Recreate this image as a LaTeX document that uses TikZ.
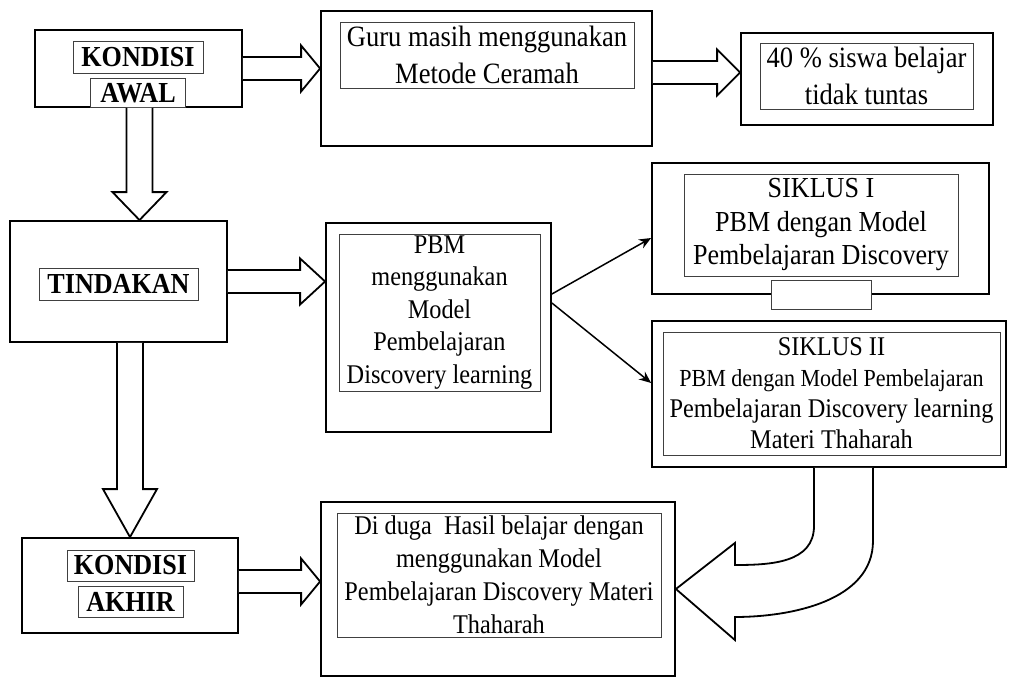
\documentclass[tikz,border=0pt]{standalone}
\usepackage{fontspec}
\setmainfont{Liberation Serif}[FakeStretch=0.9]
\usetikzlibrary{arrows.meta,calc,positioning}
\tikzset{
  kotak/.style = {
    rectangle,
    draw=black,
    line width=1.8pt,
    fill=white,
    inner sep=0pt
  },
  isi/.style = {
    rectangle,
    draw=black!75,
    line width=0.9pt,
    fill=white,
    inner sep=0pt,
    align=center,
    font=\fontsize{29}{35}\selectfont
  },
  judul/.style = {
    isi,
    font=\bfseries\fontsize{29}{35}\selectfont
  },
  block_arrow/.style = {
    draw=black,
    line width=1.8pt,
    fill=white,
    line join=miter
  },
  thin_arrow/.style = {
    line width=1.5pt,
    -{Stealth[length=12pt,width=10pt]}
  }
}
% panah blok ke kanan: #1 pangkal, #2 ujung (x), #3 panjang kepala
\newcommand{\panahkanan}[3]{%
  \draw[block_arrow] let \p1=#1, \p2=#2 in
    (\x1,\y1+11.5) -- (\x2-#3,\y1+11.5) -- (\x2-#3,\y1+23) -- (\x2,\y1)
    -- (\x2-#3,\y1-23) -- (\x2-#3,\y1-11.5) -- (\x1,\y1-11.5);}
% panah blok ke bawah: #1 pangkal, #2 ujung (y), #3 panjang kepala
\newcommand{\panahbawah}[3]{%
  \draw[block_arrow] let \p1=#1, \p2=#2 in
    (\x1-13,\y1) -- (\x1-13,\y2+#3) -- (\x1-27,\y2+#3) -- (\x1,\y2)
    -- (\x1+27,\y2+#3) -- (\x1+13,\y2+#3) -- (\x1+13,\y1);}

\begin{document}
\begin{tikzpicture}[x=1pt, y=-1pt]
\useasboundingbox (0,0) rectangle (1010,677);

% Kondisi awal
\node[kotak, minimum width=207pt, minimum height=77pt] (awal) at (138.5,68.5) {};
\node[judul, minimum width=130pt, minimum height=32pt] (awal_k) at (138,57) {KONDISI};
\node[judul, minimum width=95pt, minimum height=29pt, below=5pt of awal_k] (awal_a) {AWAL};

% Guru
\node[kotak, minimum width=331pt, minimum height=135pt] (guru) at (486.5,78.5) {};
\node[isi, minimum width=294pt, minimum height=66pt,
  font=\fontsize{29.5}{37}\selectfont] (guru_isi) at (487,55)
  {Guru masih menggunakan\\Metode Ceramah};

% Hasil awal
\node[kotak, minimum width=252pt, minimum height=92pt] (hasil) at (867,79) {};
\node[isi, minimum width=213pt, minimum height=66pt,
  font=\fontsize{29.5}{37}\selectfont] (hasil_isi) at (866.5,76)
  {40 \% siswa belajar\\tidak tuntas};

% Tindakan
\node[kotak, minimum width=217pt, minimum height=121pt] (tindakan) at (118.5,281.5) {};
\node[judul, minimum width=159pt, minimum height=32pt] (tindakan_isi) at (118.5,284) {TINDAKAN};

% PBM
\node[kotak, minimum width=225pt, minimum height=209pt] (pbm) at (438.5,327.5) {};
\node[isi, minimum width=201pt, minimum height=157pt,
  font=\fontsize{27}{32.5}\selectfont] (pbm_isi) at (439.5,312.5)
  {PBM\\menggunakan\\Model\\Pembelajaran\\Discovery learning};

% Siklus I
\node[kotak, minimum width=337pt, minimum height=131pt] (siklus1) at (820.5,228.5) {};
\node[isi, minimum width=274pt, minimum height=102pt,
  font=\fontsize{29}{33.5}\selectfont] (siklus1_isi) at (821,225)
  {SIKLUS I\\PBM dengan Model\\Pembelajaran Discovery};
\node[isi, minimum width=100pt, minimum height=29pt, below=4pt of siklus1_isi] (siklus1_kosong) {};

% Siklus II
\node[kotak, minimum width=354pt, minimum height=146pt] (siklus2) at (829,394) {};
\node[isi, minimum width=337pt, minimum height=123pt,
  font=\fontsize{27}{31}\selectfont] (siklus2_isi) at (831.5,393.5)
  {SIKLUS II\\{\fontsize{24.5}{31}\selectfont PBM dengan Model Pembelajaran}\\Pembelajaran Discovery learning\\Materi Thaharah};

% Kondisi akhir
\node[kotak, minimum width=216pt, minimum height=95pt] (akhir) at (130,585.5) {};
\node[judul, minimum width=127pt, minimum height=31pt] (akhir_k) at (130.5,565.5) {KONDISI};
\node[judul, minimum width=105pt, minimum height=31pt, below=5pt of akhir_k] (akhir_a) {AKHIR};

% Dugaan hasil
\node[kotak, minimum width=354pt, minimum height=174pt] (duga) at (498,589) {};
\node[isi, minimum width=324pt, minimum height=124pt,
  font=\fontsize{27}{33}\selectfont] (duga_isi) at (499,575)
  {Di duga\ \ Hasil belajar dengan\\menggunakan Model\\Pembelajaran Discovery Materi\\Thaharah};

% Panah
\panahkanan{(awal.east)}{(guru.west)}{19}
\panahkanan{([yshift=6pt]guru.east)}{(hasil.west)}{23}
\panahkanan{(tindakan.east)}{(pbm.west)}{25}
\panahkanan{([yshift=4pt]akhir.east)}{(duga.west)}{19}
\panahbawah{([xshift=1pt]awal.south)}{(tindakan.north)}{28}
\panahbawah{(tindakan.south -| akhir.north)}{(akhir.north)}{48}

\draw[thin_arrow] ([yshift=33.5pt]pbm.east) -- ([yshift=-9.5pt]siklus1.west);
\draw[thin_arrow] ([yshift=24.5pt]pbm.east) -- ([yshift=11pt]siklus2.west);

% Panah lengkung ke dugaan
\draw[block_arrow] let \p1=([xshift=15pt]siklus2.south), \p2=(duga.east) in
  (\x1-30,\y1) -- (\x1-30,\y1-58)
  .. controls (\x1-30,\y1-95) and (\x2+95,\y2+24) .. (\x2+59,\y2+24)
  -- (\x2+59,\y2+46) -- (\x2,\y2) -- (\x2+59,\y2-51) -- (\x2+59,\y2-28)
  .. controls (\x2+115,\y2-28) and (\x1+29,\y1-133) .. (\x1+29,\y1-73)
  -- (\x1+29,\y1);

\end{tikzpicture}
\end{document}
